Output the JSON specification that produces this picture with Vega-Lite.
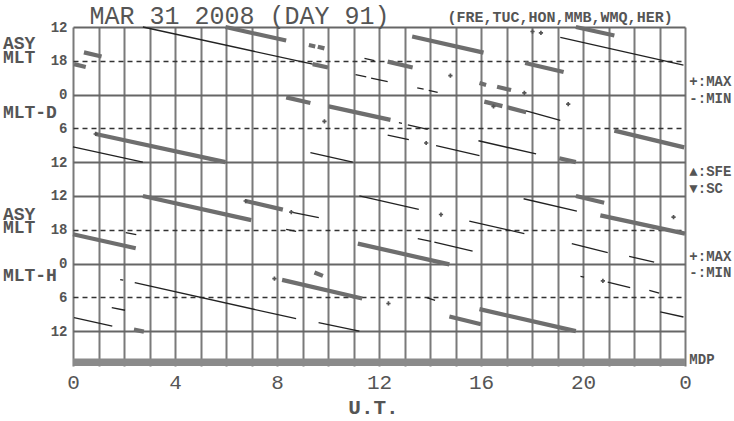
{
  "$schema": "https://vega.github.io/schema/vega-lite/v6.json",
  "autosize": "none",
  "width": 612,
  "height": 339,
  "padding": {"left": 73, "top": 27, "right": 49, "bottom": 55},
  "background": "white",
  "config": {"view": {"stroke": null}, "font": "Liberation Mono"},
  "datasets": {
    "seg": [
      {"u1": 0.0, "r1": 21.3, "u2": 2.74, "r2": 24.0, "k": "t"},
      {"u1": 2.74, "r1": 0.0, "u2": 9.4, "r2": 6.6, "k": "t"},
      {"u1": 9.4, "r1": 6.6, "u2": 10.0, "r2": 7.2, "k": "T"},
      {"u1": 0.89, "r1": 19.0, "u2": 5.98, "r2": 24.0, "k": "T"},
      {"u1": 5.98, "r1": 0.0, "u2": 8.36, "r2": 2.4, "k": "T"},
      {"u1": 0.43, "r1": 4.5, "u2": 1.12, "r2": 5.25, "k": "T"},
      {"u1": 0.04, "r1": 6.6, "u2": 0.5, "r2": 7.1, "k": "T"},
      {"u1": 9.25, "r1": 3.2, "u2": 9.5, "r2": 3.45, "k": "T"},
      {"u1": 9.6, "r1": 3.5, "u2": 9.86, "r2": 3.8, "k": "T"},
      {"u1": 8.36, "r1": 12.5, "u2": 9.31, "r2": 13.5, "k": "T"},
      {"u1": 10.03, "r1": 14.1, "u2": 12.45, "r2": 16.5, "k": "T"},
      {"u1": 9.31, "r1": 22.3, "u2": 10.97, "r2": 24.0, "k": "t"},
      {"u1": 11.43, "r1": 5.56, "u2": 11.82, "r2": 5.97, "k": "t"},
      {"u1": 11.08, "r1": 8.45, "u2": 11.5, "r2": 8.85, "k": "t"},
      {"u1": 11.69, "r1": 9.06, "u2": 12.34, "r2": 9.7, "k": "t"},
      {"u1": 12.34, "r1": 6.15, "u2": 13.32, "r2": 7.2, "k": "T"},
      {"u1": 13.3, "r1": 1.7, "u2": 16.1, "r2": 4.55, "k": "T"},
      {"u1": 13.5, "r1": 10.8, "u2": 13.75, "r2": 11.05, "k": "t"},
      {"u1": 13.95, "r1": 11.25, "u2": 14.3, "r2": 11.6, "k": "t"},
      {"u1": 12.78, "r1": 17.0, "u2": 12.9, "r2": 17.1, "k": "t"},
      {"u1": 13.13, "r1": 17.4, "u2": 13.91, "r2": 18.2, "k": "t"},
      {"u1": 12.34, "r1": 19.2, "u2": 13.17, "r2": 20.0, "k": "t"},
      {"u1": 14.24, "r1": 21.06, "u2": 15.94, "r2": 22.84, "k": "t"},
      {"u1": 19.72, "r1": 0.0, "u2": 21.23, "r2": 1.5, "k": "T"},
      {"u1": 19.11, "r1": 1.83, "u2": 23.94, "r2": 6.75, "k": "t"},
      {"u1": 17.73, "r1": 6.4, "u2": 19.24, "r2": 8.0, "k": "T"},
      {"u1": 15.94, "r1": 9.95, "u2": 16.2, "r2": 10.3, "k": "T"},
      {"u1": 16.63, "r1": 10.6, "u2": 17.18, "r2": 11.2, "k": "T"},
      {"u1": 16.13, "r1": 13.25, "u2": 16.84, "r2": 14.05, "k": "T"},
      {"u1": 17.03, "r1": 14.26, "u2": 17.77, "r2": 15.15, "k": "T"},
      {"u1": 17.77, "r1": 14.9, "u2": 19.11, "r2": 16.6, "k": "t"},
      {"u1": 15.9, "r1": 20.2, "u2": 18.16, "r2": 22.55, "k": "t"},
      {"u1": 19.07, "r1": 23.3, "u2": 19.72, "r2": 24.0, "k": "T"},
      {"u1": 21.23, "r1": 18.4, "u2": 23.97, "r2": 21.37, "k": "T"},
      {"u1": 2.74, "r1": 30.0, "u2": 6.99, "r2": 34.3, "k": "T"},
      {"u1": 6.77, "r1": 30.9, "u2": 8.23, "r2": 32.43, "k": "T"},
      {"u1": 0.0, "r1": 36.8, "u2": 2.46, "r2": 39.3, "k": "T"},
      {"u1": 2.07, "r1": 36.52, "u2": 2.48, "r2": 36.87, "k": "t"},
      {"u1": 2.42, "r1": 45.4, "u2": 8.75, "r2": 51.8, "k": "t"},
      {"u1": 1.85, "r1": 44.85, "u2": 1.97, "r2": 44.95, "k": "t"},
      {"u1": 1.52, "r1": 49.84, "u2": 2.04, "r2": 50.3, "k": "t"},
      {"u1": 0.04, "r1": 51.6, "u2": 1.54, "r2": 53.1, "k": "t"},
      {"u1": 2.39, "r1": 53.75, "u2": 2.78, "r2": 54.1, "k": "T"},
      {"u1": 11.23, "r1": 30.0, "u2": 13.56, "r2": 32.4, "k": "t"},
      {"u1": 8.56, "r1": 32.86, "u2": 9.64, "r2": 33.85, "k": "t"},
      {"u1": 8.36, "r1": 35.93, "u2": 8.75, "r2": 36.3, "k": "t"},
      {"u1": 15.54, "r1": 34.46, "u2": 17.7, "r2": 36.7, "k": "t"},
      {"u1": 11.17, "r1": 38.47, "u2": 14.76, "r2": 42.15, "k": "T"},
      {"u1": 13.52, "r1": 37.6, "u2": 14.04, "r2": 38.05, "k": "t"},
      {"u1": 14.17, "r1": 38.2, "u2": 15.67, "r2": 39.8, "k": "t"},
      {"u1": 9.47, "r1": 43.6, "u2": 9.8, "r2": 44.2, "k": "T"},
      {"u1": 8.2, "r1": 44.9, "u2": 11.34, "r2": 48.2, "k": "T"},
      {"u1": 13.87, "r1": 48.07, "u2": 14.2, "r2": 48.55, "k": "t"},
      {"u1": 9.63, "r1": 52.5, "u2": 11.23, "r2": 54.0, "k": "t"},
      {"u1": 14.76, "r1": 51.4, "u2": 16.0, "r2": 52.8, "k": "T"},
      {"u1": 17.67, "r1": 30.5, "u2": 19.76, "r2": 32.7, "k": "t"},
      {"u1": 19.72, "r1": 30.0, "u2": 20.83, "r2": 31.2, "k": "T"},
      {"u1": 20.68, "r1": 33.45, "u2": 24.0, "r2": 36.7, "k": "T"},
      {"u1": 19.56, "r1": 38.47, "u2": 20.97, "r2": 40.07, "k": "t"},
      {"u1": 21.81, "r1": 40.73, "u2": 22.79, "r2": 41.74, "k": "t"},
      {"u1": 19.9, "r1": 44.3, "u2": 20.04, "r2": 44.4, "k": "t"},
      {"u1": 20.97, "r1": 45.3, "u2": 21.85, "r2": 46.3, "k": "t"},
      {"u1": 22.6, "r1": 46.77, "u2": 22.99, "r2": 47.25, "k": "t"},
      {"u1": 23.03, "r1": 50.6, "u2": 23.94, "r2": 51.5, "k": "t"},
      {"u1": 15.94, "r1": 50.1, "u2": 19.72, "r2": 54.0, "k": "T"}
    ],
    "pts": [
      {"u": 0.89, "r": 19.0}, {"u": 18.02, "r": 0.8}, {"u": 18.35, "r": 1.06}, {"u": 14.8, "r": 8.63},
      {"u": 17.7, "r": 11.7}, {"u": 19.42, "r": 13.7}, {"u": 9.86, "r": 16.75}, {"u": 13.85, "r": 20.6},
      {"u": 6.77, "r": 30.9}, {"u": 7.9, "r": 44.7}, {"u": 12.37, "r": 49.1}, {"u": 14.43, "r": 33.3},
      {"u": 23.55, "r": 33.75}, {"u": 20.78, "r": 45.1}, {"u": 8.56, "r": 32.86}, {"u": 16.49, "r": 14.1}
    ],
    "mdp": [{"u1": 0, "u2": 24, "r1": 58.85, "r2": 60.2}],
    "pairlab": [
      {"t": "ASY\nMLT", "u": -2.75, "r": 3.1},
      {"t": "ASY\nMLT", "u": -2.75, "r": 33.35}
    ],
    "leftlab": [
      {"t": "MLT-D", "u": -2.75, "r": 15.2},
      {"t": "MLT-H", "u": -2.75, "r": 44.3}
    ],
    "rightlab": [
      {"t": "+:MAX", "u": 24.17, "r": 9.75}, {"t": "-:MIN", "u": 24.17, "r": 12.7},
      {"t": "▲:SFE", "u": 24.17, "r": 25.75}, {"t": "▼:SC", "u": 24.17, "r": 28.7},
      {"t": "+:MAX", "u": 24.17, "r": 40.85}, {"t": "-:MIN", "u": 24.17, "r": 43.75},
      {"t": "MDP", "u": 24.17, "r": 59.2}
    ],
    "heading": [{"t": "MAR 31 2008 (DAY 91)", "u": 0.65, "r": -0.62}],
    "stations": [{"t": "(FRE,TUC,HON,MMB,WMQ,HER)", "u": 14.69, "r": -0.9}]
  },
  "layer": [
    {
      "data": {"name": "mdp"},
      "mark": {"type": "rect", "color": "#8a8a8a"},
      "encoding": {
        "x": {"field": "u1", "type": "quantitative",
          "scale": {"domain": [0, 24], "nice": false, "zero": false},
          "axis": {"values": [0,1,2,3,4,5,6,7,8,9,10,11,12,13,14,15,16,17,18,19,20,21,22,23,24],
            "tickCount": 200,
            "labelExpr": "datum.value % 4 == 0 ? '' + (datum.value % 24) : ''",
            "labelFlush": false, "labelOverlap": false, "labelFont": "Liberation Mono", "labelFontSize": 21, "labelColor": "#555555",
            "labelPadding": 5, "ticks": false, "domain": false,
            "grid": true, "gridColor": "#7a7a7a", "gridWidth": 2, "gridOpacity": 1,
            "title": "U.T.", "titleFont": "Liberation Mono", "titleFontSize": 21, "titleFontWeight": "bold", "titleColor": "#555555", "titlePadding": 4, "titleX": 300}},
        "x2": {"field": "u2"},
        "y": {"field": "r1", "type": "quantitative",
          "scale": {"domain": [0, 60.2], "nice": false, "zero": false, "reverse": true},
          "axis": {"values": [0,6,12,18,24,30,36,42,48,54],
            "tickCount": 200,
            "labelExpr": "datum.value < 27 ? '' + ((datum.value + 12) % 24) : '' + ((datum.value - 18) % 24)",
            "labelFlush": false, "labelOverlap": false, "labelFont": "Liberation Mono", "labelFontSize": 14, "labelFontWeight": "bold", "labelColor": "#555555",
            "labelPadding": 6, "ticks": false, "domain": false,
            "grid": true, "gridOpacity": 1,
            "gridColor": {"condition": {"test": "indexof([6,18,36,48], datum.value) >= 0", "value": "#333333"}, "value": "#666666"},
            "gridDash": {"condition": {"test": "indexof([6,18,36,48], datum.value) >= 0", "value": [5, 4]}, "value": []},
            "gridWidth": {"condition": {"test": "indexof([6,18,36,48], datum.value) >= 0", "value": 1.5}, "value": 2},
            "title": null}},
        "y2": {"field": "r2"}
      }
    },
    {
      "data": {"name": "seg"},
      "transform": [{"filter": "datum.k == 'T'"}],
      "mark": {"type": "rule", "color": "#6e6e6e", "strokeWidth": 4.2, "strokeCap": "butt"},
      "encoding": {
        "x": {"field": "u1", "type": "quantitative"}, "x2": {"field": "u2"},
        "y": {"field": "r1", "type": "quantitative"}, "y2": {"field": "r2"}
      }
    },
    {
      "data": {"name": "seg"},
      "transform": [{"filter": "datum.k == 't'"}],
      "mark": {"type": "rule", "color": "#222222", "strokeWidth": 1.3},
      "encoding": {
        "x": {"field": "u1", "type": "quantitative"}, "x2": {"field": "u2"},
        "y": {"field": "r1", "type": "quantitative"}, "y2": {"field": "r2"}
      }
    },
    {
      "data": {"name": "pts"},
      "mark": {"type": "point", "shape": "cross", "filled": true, "size": 18, "color": "#555555", "opacity": 1},
      "encoding": {
        "x": {"field": "u", "type": "quantitative"},
        "y": {"field": "r", "type": "quantitative"}
      }
    },
    {
      "data": {"name": "pairlab"},
      "mark": {"type": "text", "align": "left", "baseline": "middle", "lineBreak": "\n", "lineHeight": 13.5, "font": "Liberation Mono", "fontSize": 18, "fontWeight": "bold", "color": "#555555"},
      "encoding": {
        "x": {"field": "u", "type": "quantitative"},
        "y": {"field": "r", "type": "quantitative"},
        "text": {"field": "t"}
      }
    },
    {
      "data": {"name": "leftlab"},
      "mark": {"type": "text", "align": "left", "baseline": "middle", "font": "Liberation Mono", "fontSize": 18, "fontWeight": "bold", "color": "#555555"},
      "encoding": {
        "x": {"field": "u", "type": "quantitative"},
        "y": {"field": "r", "type": "quantitative"},
        "text": {"field": "t"}
      }
    },
    {
      "data": {"name": "rightlab"},
      "mark": {"type": "text", "align": "left", "baseline": "middle", "font": "Liberation Mono", "fontSize": 14, "fontWeight": "bold", "color": "#555555"},
      "encoding": {
        "x": {"field": "u", "type": "quantitative"},
        "y": {"field": "r", "type": "quantitative"},
        "text": {"field": "t"}
      }
    },
    {
      "data": {"name": "heading"},
      "mark": {"type": "text", "align": "left", "baseline": "alphabetic", "font": "Liberation Mono", "fontSize": 25, "fontWeight": "normal", "color": "#555555"},
      "encoding": {
        "x": {"field": "u", "type": "quantitative"},
        "y": {"field": "r", "type": "quantitative"},
        "text": {"field": "t"}
      }
    },
    {
      "data": {"name": "stations"},
      "mark": {"type": "text", "align": "left", "baseline": "alphabetic", "font": "Liberation Mono", "fontSize": 15, "fontWeight": "bold", "color": "#555555"},
      "encoding": {
        "x": {"field": "u", "type": "quantitative"},
        "y": {"field": "r", "type": "quantitative"},
        "text": {"field": "t"}
      }
    }
  ]
}
